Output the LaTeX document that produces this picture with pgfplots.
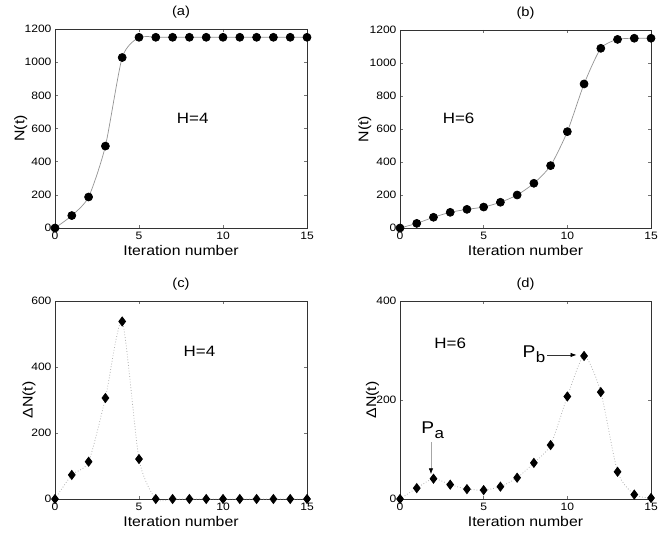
\documentclass[border=0pt]{standalone}
\usepackage{fontspec}
\setmainfont{Liberation Sans}[FakeStretch=1.13]
\usepackage{pgfplots}
\pgfplotsset{compat=1.18}
\usetikzlibrary{arrows.meta}

\pgfplotsset{
  myaxis/.style={
    scale only axis,
    xmin=0, xmax=15,
    ymin=0,
    xtick={0,5,10,15},
    tick align=inside,
    major tick length=3pt,
    minor tick num=0,
    every tick/.style={black!55, line width=0.4pt},
    axis line style={black!80, line width=0.6pt},
    /pgf/number format/assume math mode=true,
    /pgf/number format/1000 sep={},
    tick label style={font=\fontsize{10.7}{12}\selectfont},
    xticklabel style={yshift=-0.5pt},
    label style={font=\fontsize{14}{16}\selectfont},
    title style={font=\fontsize{13}{15}\selectfont, yshift=1pt},
    xlabel style={at={(axis description cs:0.5,0)}, anchor=center, yshift=-22.7pt},
    clip=false,
  },
  solidline/.style={gray!85, line width=0.7pt, smooth, tension=0.4, mark=*, mark size=4pt, mark options={solid, fill=black, draw=black}},
  dotline/.style={gray!60, line width=0.8pt, dotted, smooth, tension=0.4, mark=diamond*, mark size=4.5pt, mark options={solid, fill=black, draw=black}},
}

\begin{document}
\begin{tikzpicture}
\path[use as bounding box] (0pt,0pt) rectangle (668pt,538pt);

% (a)
\begin{axis}[myaxis, at={(55pt,310pt)}, anchor=south west, width=252pt, height=199pt,
  ymax=1200, ytick={0,200,...,1200}, title={(a)}, xlabel={Iteration number}, ylabel={N(t)},
  ylabel style={at={(axis description cs:-0.136,0.5)}, anchor=center}]
\addplot[solidline] coordinates {(0,0) (1,75) (2,187) (3,494) (4,1028) (5,1150) (6,1150) (7,1150) (8,1150) (9,1150) (10,1150) (11,1150) (12,1150) (13,1150) (14,1150) (15,1150)};
\node[font=\fontsize{15}{17}\selectfont] at (axis cs:8.2,663) {H=4};
\end{axis}

% (b)
\begin{axis}[myaxis, at={(400pt,310pt)}, anchor=south west, width=251pt, height=198pt,
  ymax=1200, ytick={0,200,...,1200}, title={(b)}, xlabel={Iteration number}, ylabel={N(t)},
  ylabel style={at={(axis description cs:-0.14,0.5)}, anchor=center}]
\addplot[solidline] coordinates {(0,0) (1,28) (2,65) (3,95) (4,113) (5,127) (6,156) (7,200) (8,271) (9,378) (10,584) (11,873) (12,1089) (13,1143) (14,1150) (15,1150)};
\node[font=\fontsize{15}{17}\selectfont] at (axis cs:3.5,663) {H=6};
\end{axis}

% (c)
\begin{axis}[myaxis, at={(55pt,39pt)}, anchor=south west, width=252pt, height=198pt,
  ymax=600, ytick={0,200,400,600}, title={(c)}, xlabel={Iteration number}, ylabel={ΔN(t)},
  ylabel style={at={(axis description cs:-0.103,0.5)}, anchor=center}]
\addplot[dotline] coordinates {(0,0) (1,73) (2,113) (3,306) (4,538) (5,121) (6,0) (7,0) (8,0) (9,0) (10,0) (11,0) (12,0) (13,0) (14,0) (15,0)};
\node[font=\fontsize{15}{17}\selectfont] at (axis cs:8.6,448) {H=4};
\end{axis}

% (d)
\begin{axis}[myaxis, at={(400pt,39pt)}, anchor=south west, width=251pt, height=198pt,
  ymax=400, ytick={0,200,400}, title={(d)}, xlabel={Iteration number}, ylabel={ΔN(t)},
  ylabel style={at={(axis description cs:-0.11,0.5)}, anchor=center}]
\addplot[dotline] coordinates {(0,0) (1,22) (2,41) (3,29) (4,20) (5,18) (6,25) (7,43) (8,73) (9,109) (10,207) (11,289) (12,216) (13,55) (14,9) (15,2)};
\node[font=\fontsize{15}{17}\selectfont] at (axis cs:3.0,315) {H=6};
\node[font=\fontsize{17}{19}\selectfont, anchor=base] at (axis cs:1.95,132) {P\kern0.5pt\raisebox{-5pt}{\fontsize{15}{17}\selectfont a}};
\draw[gray!70, line width=0.8pt, -{Latex[length=6pt,width=4.5pt,black]}] (axis cs:1.85,115) -- (axis cs:1.85,50);
\node[font=\fontsize{17}{19}\selectfont, anchor=base] at (axis cs:8.0,285) {P\kern0.5pt\raisebox{-5pt}{\fontsize{15}{17}\selectfont b}};
\draw[black!80, line width=0.8pt, -{Latex[length=6pt,width=4.5pt,black]}] (axis cs:8.8,291) -- (axis cs:10.55,291);
\end{axis}
\end{tikzpicture}
\end{document}
